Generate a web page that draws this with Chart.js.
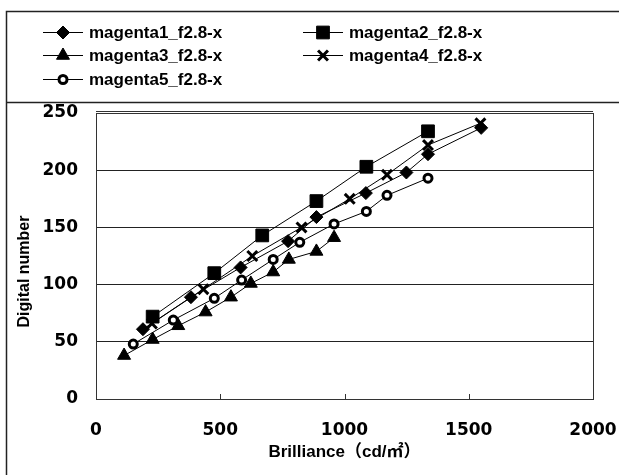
<!DOCTYPE html>
<html>
<head>
<meta charset="utf-8">
<script src="https://cdn.jsdelivr.net/npm/chart.js@4.4.1/dist/chart.umd.min.js"></script>
<style>
  html, body { margin: 0; padding: 0; background: #fff; }
  #wrap { position: relative; width: 619px; height: 475px; }
</style>
</head>
<body>
<div id="wrap"><canvas id="lineChart"></canvas></div>
<script>
// series names and point styles
const seriesNames = ["magenta1_f2.8-x", "magenta2_f2.8-x", "magenta3_f2.8-x", "magenta4_f2.8-x", "magenta5_f2.8-x"];
const markers = ["rectRot", "rect", "triangle", "crossRot", "circle"];

// brilliance (cd/m2) and digital number
const brill1 = [189, 382, 582, 773, 887, 1086, 1249, 1336, 1550];
const dn1 = [61, 89, 115, 138, 159, 180, 198, 214, 237];
const brill2 = [228, 476, 669, 887, 1088, 1336];
const dn2 = [72, 110, 143, 173, 203, 234];
const brill3 = [113, 228, 331, 441, 543, 623, 713, 776, 887, 958];
const dn3 = [38, 52, 64, 76, 89, 101, 111, 122, 129, 141];
const brill4 = [225, 432, 629, 827, 1021, 1171, 1336, 1547];
const dn4 = [66, 96, 125, 150, 175, 196, 222, 241];
const brill5 = [150, 311, 476, 586, 713, 820, 958, 1088, 1171, 1336];
const dn5 = [48, 69, 88, 104, 122, 137, 153, 164, 178, 193];

// axis ticks
const xTicks = [0, 500, 1000, 1500, 2000];
const yTicks = [0, 50, 100, 150, 200, 250];

const allX = [brill1, brill2, brill3, brill4, brill5];
const allY = [dn1, dn2, dn3, dn4, dn5];

function pointRadius(style) {
    if (style === 'rect') return 9;
    if (style === 'triangle') return 7.5;
    if (style === 'crossRot') return 7;
    if (style === 'circle') return 4;
    return 6.5;
}
function pointBorder(style) {
    if (style === 'crossRot') return 3;
    if (style === 'circle') return 3;
    return 1;
}

const datasets = seriesNames.map(function (name, i) {
    return {
        label: name,
        data: allX[i].map(function (x, j) { return { x: x, y: allY[i][j] }; }),
        borderColor: '#000',
        borderWidth: 1,
        backgroundColor: markers[i] === 'circle' ? '#fff' : '#000',
        pointStyle: markers[i],
        pointRadius: pointRadius(markers[i]),
        pointBorderWidth: pointBorder(markers[i]),
        pointBorderColor: '#000',
        pointBackgroundColor: markers[i] === 'circle' ? '#fff' : '#000',
        tension: 0,
        fill: false,
        order: 4 - i
    };
});

// frame, legend box, plot border, inward x ticks and the legend
const decorations = {
    id: 'decorations',
    afterDatasetsDraw(chart) {
        const ctx = chart.ctx;
        const a = chart.chartArea;
        const xs = chart.scales.x;
        ctx.save();
        ctx.strokeStyle = '#333';
        ctx.lineWidth = 1;
        ctx.strokeRect(a.left + 0.5, a.top + 0.5, a.right - a.left, a.bottom - a.top);
        ctx.beginPath();
        ctx.moveTo(a.left, a.top - 1.5);
        ctx.lineTo(a.right, a.top - 1.5);
        xTicks.slice(1, -1).forEach(function (v) {
            const px = Math.round(xs.getPixelForValue(v)) + 0.5;
            ctx.moveTo(px, a.bottom);
            ctx.lineTo(px, a.bottom - 5);
        });
        ctx.stroke();
        ctx.restore();
    },
    afterDraw(chart) {
        const ctx = chart.ctx;
        ctx.save();
        ctx.strokeStyle = '#222';
        ctx.lineWidth = 1.5;
        ctx.beginPath();
        ctx.moveTo(619, 11.5);
        ctx.lineTo(6.5, 11.5);
        ctx.lineTo(6.5, 475);
        ctx.moveTo(6.5, 102.5);
        ctx.lineTo(619, 102.5);
        ctx.stroke();

        const cols = [43, 303];
        const rows = [32, 55, 79];
        ctx.font = 'bold 17px "Liberation Sans", Arial, sans-serif';
        ctx.textBaseline = 'middle';
        ctx.fillStyle = '#000';
        seriesNames.forEach(function (name, i) {
            const x0 = cols[i % 2];
            const y0 = rows[Math.floor(i / 2)];
            ctx.strokeStyle = '#000';
            ctx.lineWidth = 1;
            ctx.beginPath();
            ctx.moveTo(x0, y0 + 0.5);
            ctx.lineTo(x0 + 40, y0 + 0.5);
            ctx.stroke();
            ctx.fillStyle = markers[i] === 'circle' ? '#fff' : '#000';
            ctx.lineWidth = pointBorder(markers[i]);
            Chart.helpers.drawPoint(ctx, {
                pointStyle: markers[i],
                radius: pointRadius(markers[i]),
                rotation: 0,
                borderWidth: pointBorder(markers[i])
            }, x0 + 20, y0 + 0.5);
            ctx.fillStyle = '#000';
            ctx.fillText(name, x0 + 46, y0 + 1);
        });
        ctx.restore();
    }
};

var ctxL = document.getElementById('lineChart').getContext('2d');
new Chart(ctxL, {
    type: 'line',
    data: { datasets: datasets },
    plugins: [decorations],
    options: {
        responsive: true,
        maintainAspectRatio: false,
        animation: false,
        layout: { padding: { left: 6, right: 26, top: 113, bottom: 0 } },
        plugins: {
            legend: { display: false },
            tooltip: { enabled: false }
        },
        scales: {
            x: {
                type: 'linear',
                min: 0,
                max: 2000,
                afterBuildTicks: function (s) { s.ticks = xTicks.map(function (v) { return { value: v }; }); },
                afterFit: function (s) { s.height = 76; s.paddingLeft = 0; s.paddingRight = 0; },
                grid: { display: false, drawTicks: false },
                border: { display: true, color: '#333', width: 1 },
                ticks: {
                    color: '#000',
                    padding: 21,
                    maxRotation: 0,
                    callback: function (v) { return String(v); },
                    font: { family: '"DejaVu Sans", sans-serif', size: 17, weight: 'bold' }
                },
                title: {
                    display: true,
                    text: 'Brilliance（cd/㎡）',
                    color: '#000',
                    padding: { top: 0, bottom: 12 },
                    font: { family: '"Liberation Sans", "Noto Sans CJK JP", sans-serif', size: 17, weight: 'bold' }
                }
            },
            y: {
                min: 0,
                max: 250,
                afterBuildTicks: function (s) { s.ticks = yTicks.map(function (v) { return { value: v }; }); },
                afterFit: function (s) { s.width = 90; },
                grid: { color: '#222', lineWidth: 1, drawTicks: false },
                border: { display: true, color: '#333', width: 1 },
                ticks: {
                    color: '#000',
                    padding: 18,
                    font: { family: '"DejaVu Sans", sans-serif', size: 17, weight: 'bold' }
                },
                title: {
                    display: true,
                    // trailing spaces push the visible words a little below the centre, as in the source
                    text: 'Digital number       ',
                    color: '#000',
                    padding: { top: 9, bottom: 0 },
                    font: { family: '"Liberation Sans", sans-serif', size: 16, weight: 'bold' }
                }
            }
        }
    }
});
</script>
</body>
</html>
